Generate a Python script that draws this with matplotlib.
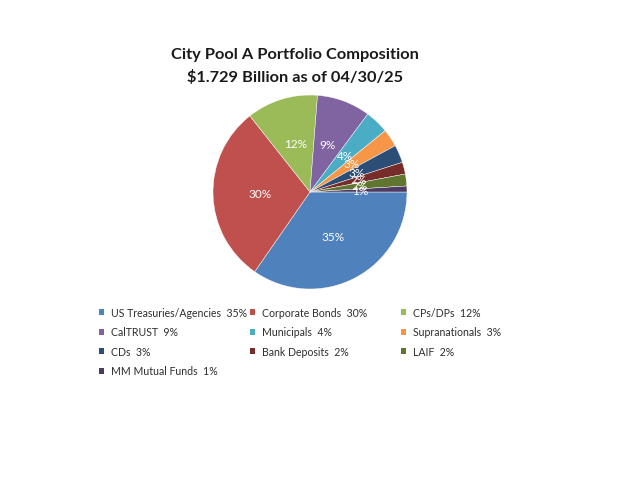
import numpy as np
import matplotlib.pyplot as plt
from matplotlib.patches import Patch

plt.rcParams['font.family'] = ['Lato', 'DejaVu Sans']

title_lines = ['City Pool A Portfolio Composition', '$1.729 Billion as of 04/30/25']

categories = ['US Treasuries/Agencies', 'Corporate Bonds', 'CPs/DPs', 'CalTRUST',
              'Municipals', 'Supranationals', 'CDs', 'Bank Deposits', 'LAIF',
              'MM Mutual Funds']
shares = [35, 30, 12, 9, 4, 3, 3, 2, 2, 1]
colors = ['#4F81BD', '#C0504D', '#9BBB59', '#8064A2', '#4BACC6', '#F79646',
          '#2C4D75', '#772C2A', '#5F7530', '#4D3B62']

W, H = 621, 485
fig = plt.figure(figsize=(W / 100, H / 100), dpi=100)
fig.patch.set_facecolor('white')

# pie centre (310,193) px from top-left, radius 97 px
cx, cy, r = 310, 193, 97
ax = fig.add_axes([(cx - r) / W, (H - cy - r) / H, 2 * r / W, 2 * r / H])
wedges, _, autotexts = ax.pie(shares, colors=colors, startangle=0, counterclock=False,
                              autopct=lambda p: f'{p:.0f}%', pctdistance=0.52,
                              wedgeprops=dict(edgecolor='white', linewidth=0.3),
                              textprops=dict(color='white', fontsize=8.5))
ax.set_xlim(-1, 1)
ax.set_ylim(-1, 1)
ax.axis('off')

fig.text(295 / W, 1 - 55 / H, title_lines[0], ha='center', va='center',
         fontsize=11.8, fontweight='bold', color='#1a1a1a')
fig.text(295 / W, 1 - 77 / H, title_lines[1], ha='center', va='center',
         fontsize=11.8, fontweight='bold', color='#1a1a1a')

# legend: 3 fixed-width columns, filled row by row
col_x = [99, 250, 401]
for k in range(3):
    idx = list(range(k, len(categories), 3))
    handles = [Patch(facecolor=colors[i], edgecolor='none') for i in idx]
    labels = [f'{categories[i]}  {shares[i]}%' for i in idx]
    fig.legend(handles, labels, loc='upper left',
               bbox_to_anchor=(col_x[k] / W, 1 - 308 / H),
               frameon=False, fontsize=7.6, borderpad=0, borderaxespad=0,
               handlelength=0.5, handleheight=0.5, handletextpad=0.65,
               labelspacing=0.8, labelcolor='#2e2e2e')

fig.savefig('out.png', dpi=100, facecolor='white')
